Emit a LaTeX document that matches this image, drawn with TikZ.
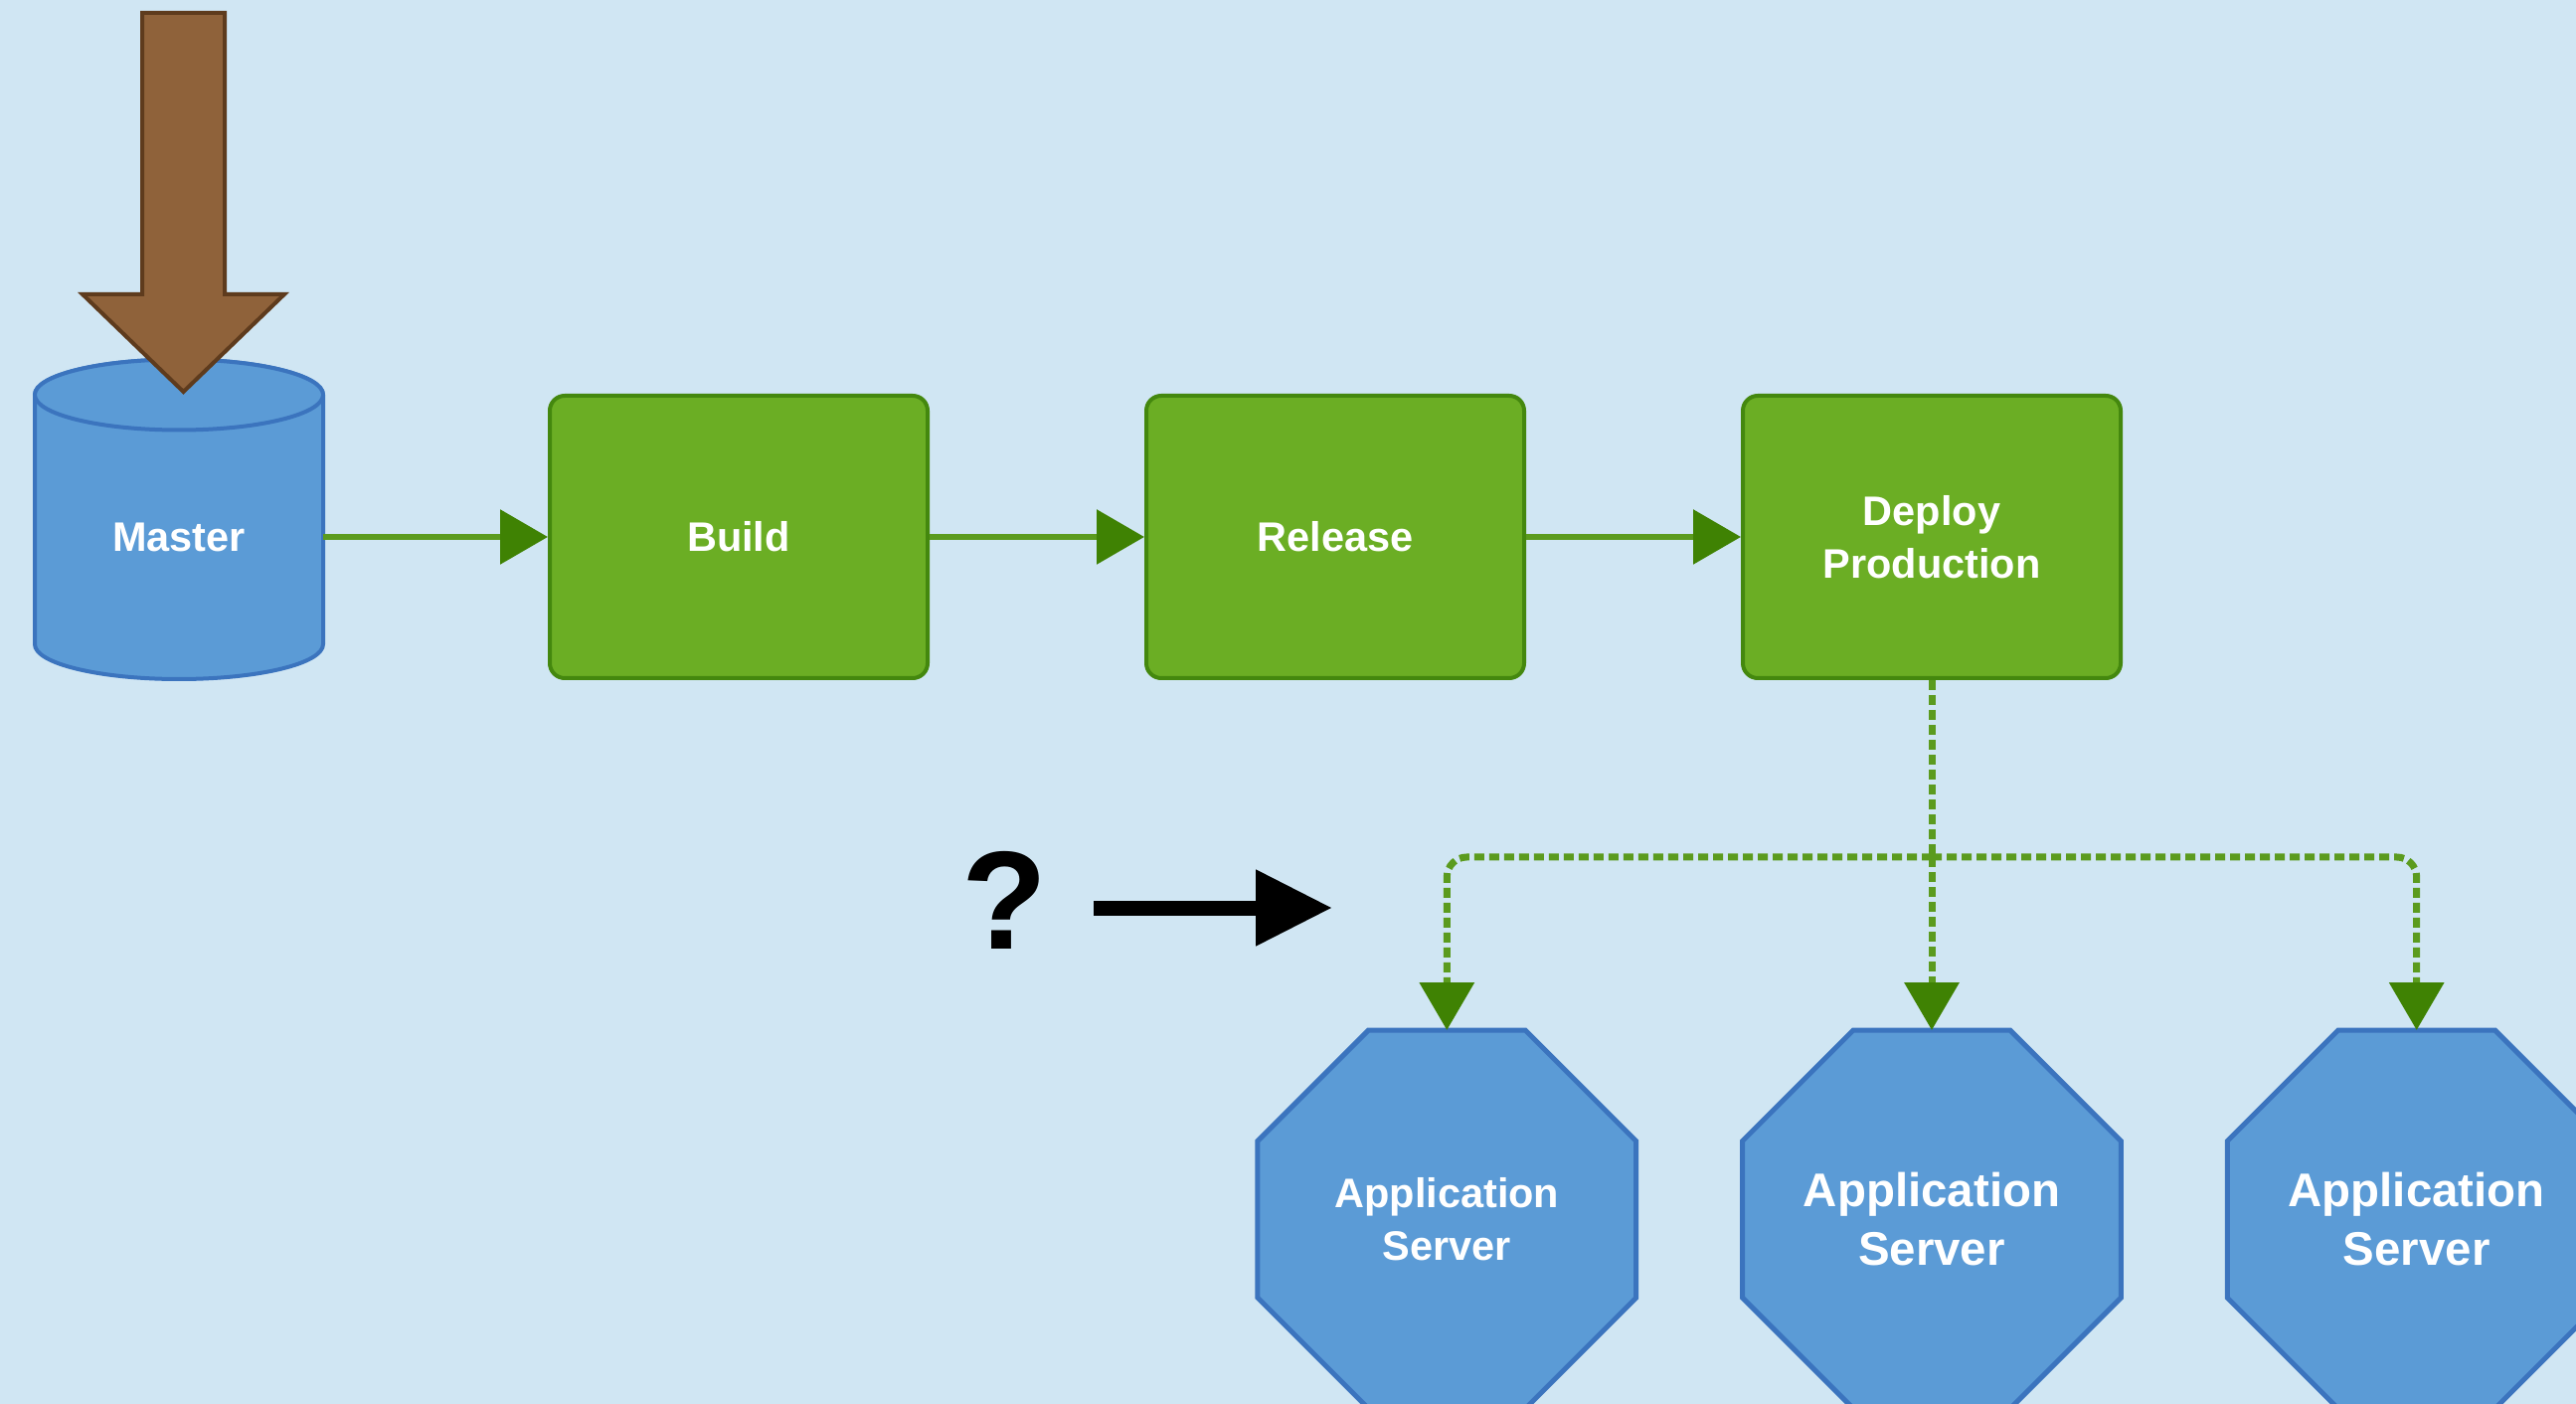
\documentclass[tikz,border=0pt]{standalone}
\usepackage{fontspec}
\setmainfont{Liberation Sans}
\usetikzlibrary{shapes, shapes.geometric, arrows.meta, positioning, calc}
\pgfdeclarelayer{background}
\pgfsetlayers{background,main}
\definecolor{bgblue}{HTML}{D0E6F3}
\definecolor{greenfill}{HTML}{6BAE24}
\definecolor{greenline}{HTML}{44880E}
\definecolor{linkgreen}{HTML}{5B9B1E}
\definecolor{tipgreen}{HTML}{3F8203}
\definecolor{bluefill}{HTML}{5B9BD6}
\definecolor{blueline}{HTML}{3B74BE}
\definecolor{brownfill}{HTML}{8F623A}
\definecolor{brownline}{HTML}{5E3B1D}
\newcommand{\stagefont}{\fontsize{11.8}{15}\selectfont\bfseries}
\newcommand{\bigserverfont}{\fontsize{13.5}{16.8}\selectfont\bfseries}
\tikzset{repo/.style={draw=blueline, fill=bluefill, line width=0.04cm}}
\tikzset{repotext/.style={minimum width=2.9cm, minimum height=2.86cm, inner sep=0, outer sep=0, text=white, font=\stagefont}}
\tikzset{stage/.style={draw=greenline, fill=greenfill, rounded corners=0.15cm, line width=0.04cm, minimum width=3.8cm, minimum height=2.84cm, text=white, align=center, font=\stagefont}}
\tikzset{server/.style={regular polygon, regular polygon sides=8, minimum size=4.12cm, inner sep=0, outer sep=0, draw=blueline, fill=bluefill, line width=0.05cm, text=white, align=center}}
\tikzset{pusharrow/.style={draw=brownline, fill=brownfill, line width=0.04cm, line join=miter}}
\tikzset{flow/.style={draw=linkgreen, line width=0.06cm}}
\tikzset{headed/.style={-{Triangle[length=0.48cm, width=0.54cm, color=tipgreen]}}}
\tikzset{fanout/.style={draw=linkgreen, line width=0.07cm, dash pattern=on 0.1cm off 0.05cm, rounded corners=0.2cm}}
\tikzset{hint/.style={draw=black, line width=0.15cm, -{Triangle[length=0.77cm, width=0.73cm]}}}

\begin{document}
\begin{tikzpicture}
\useasboundingbox (0,0) rectangle (25.91,-14.12);
\clip (0,0) rectangle (25.91,-14.12);

\node[repotext] (master) at (1.80,-5.40) {Master};
\node[stage, right=2.26cm of master] (build) {Build};
\node[stage, right=2.16cm of build] (release) {Release};
\node[stage, right=2.16cm of release] (deploy) {Deploy\\Production};

\node[server, below=3.52cm of deploy, font=\bigserverfont] (app2) {Application\\Server};
\node[server, left=1.07cm of app2, font=\stagefont] (app1) {Application\\Server};
\node[server, right=1.07cm of app2, font=\bigserverfont] (app3) {Application\\Server};

\begin{pgfonlayer}{background}
\fill[bgblue] (0,0) rectangle (25.91,-14.12);
\filldraw[repo] (master.north west) -- ([yshift=0.35cm]master.south west)
  arc[start angle=180, end angle=360, x radius=1.45cm, y radius=0.35cm]
  -- (master.north east) arc[start angle=0, end angle=180, x radius=1.45cm, y radius=0.355cm] -- cycle;
\draw[repo] (master.north) ellipse[x radius=1.45cm, y radius=0.355cm];
\end{pgfonlayer}

% push into master
\filldraw[pusharrow] (1.43,-0.13) -- (1.43,-2.96) -- (0.83,-2.96) -- (1.845,-3.94)
  -- (2.86,-2.96) -- (2.26,-2.96) -- (2.26,-0.13) -- cycle;

\node[font=\fontsize{40}{40}\selectfont\bfseries] (question) at (10.10,-9.05) {?};
\coordinate (hintstart) at (11.00,-9.13);
\coordinate (hintend) at (13.40,-9.13);
\draw[hint] (hintstart) -- (hintend);

\draw[flow, headed] (master) -- (build);
\draw[flow, headed] (build) -- (release);
\draw[flow, headed] (release) -- (deploy);

\coordinate[below=1.78cm of deploy.south] (split);
\draw[fanout] (deploy.south) -- (split);
\draw[fanout, headed] (split) -| (app1.north);
\draw[fanout, headed] (split) -- (app2.north);
\draw[fanout, headed] (split) -| (app3.north);
\end{tikzpicture}
\end{document}
